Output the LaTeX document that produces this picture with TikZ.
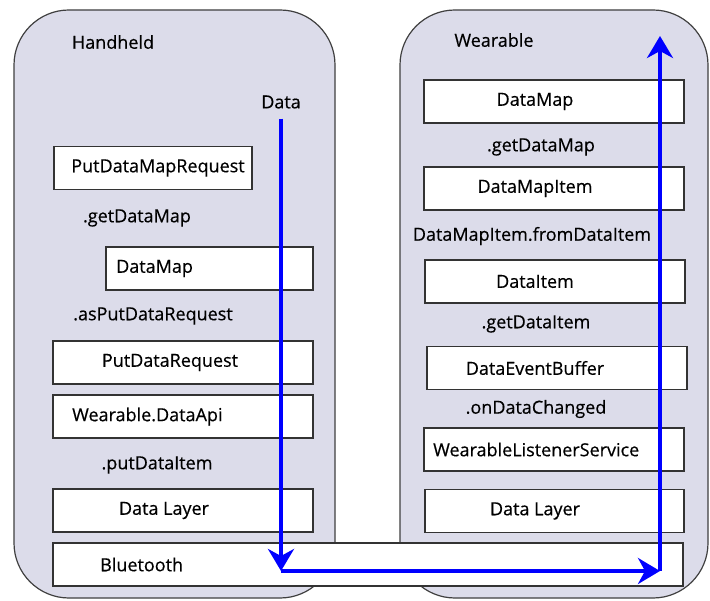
\documentclass[tikz,border=0pt]{standalone}
\usepackage{fontspec}
\setmainfont{Open Sans}[FakeBold=0.45]
\usetikzlibrary{arrows.meta}

\tikzset{
  panel/.style={draw=black!75, line width=1.2pt, fill=panelfill, rounded corners=55pt},
  box/.style={draw=black!80, line width=1.1pt, fill=white, minimum height=43pt, inner sep=0pt},
  txt/.style={font=\fontsize{18}{21}\selectfont, inner sep=1pt},
  flow/.style={draw=flowblue, line width=3.5pt, -{Stealth[length=22pt, width=26pt, inset=7pt]}}
}
\definecolor{panelfill}{RGB}{220,220,234}
\definecolor{flowblue}{RGB}{0,0,255}

\begin{document}
\begin{tikzpicture}[x=1pt, y=-1pt]
\fill[white] (0,0) rectangle (710,601);
\useasboundingbox (0,0) rectangle (710,601);

% the two devices
\draw[panel] (14,10) rectangle (335,598);
\draw[panel] (400,10) rectangle (708,598);
\node[txt] (hand) at (113,42) {Handheld};
\node[txt] (wear) at (494,40) {Wearable};

% handheld side
\node[txt] (data) at (281,102) {Data};
\node[box, minimum width=198pt] (pdmr) at (153,168) {};
\node[txt] at (158,168) {PutDataMapRequest};
\node[txt] (getmapl) at (137,218) {.getDataMap};
\node[box, minimum width=207pt] (hmap) at (209.5,268.5) {};
\node[txt, anchor=west] at (115,268.5) {DataMap};
\node[txt] (aspdr) at (153,316) {.asPutDataRequest};
\node[box, minimum width=260pt] (pdr) at (183,362.5) {};
\node[txt] at (170,362.5) {PutDataRequest};
\node[box, minimum width=260pt] (api) at (183,416.5) {};
\node[txt, anchor=west] at (71,416.5) {Wearable.DataApi};
\node[txt] (putitem) at (157,465) {.putDataItem};
\node[box, minimum width=260pt] (hlayer) at (183,510.5) {};
\node[txt] at (164,510.5) {Data Layer};

% wearable side
\node[box, minimum width=260pt] (wmap) at (554,101.5) {};
\node[txt] at (535,101.5) {DataMap};
\node[txt] (getmapr) at (541,147) {.getDataMap};
\node[box, minimum width=260pt] (dmi) at (554,188.5) {};
\node[txt] at (535,188.5) {DataMapItem};
\node[txt] (fromitem) at (532,236) {DataMapItem.fromDataItem};
\node[box, minimum width=260pt] (ditem) at (555,281.5) {};
\node[txt] at (535,281.5) {DataItem};
\node[txt] (getitem) at (536,324) {.getDataItem};
\node[box, minimum width=260pt] (buffer) at (557,368) {};
\node[txt] at (535,368) {DataEventBuffer};
\node[txt] (changed) at (536,409) {.onDataChanged};
\node[box, minimum width=260pt] (wls) at (554,449.5) {};
\node[txt, anchor=west] at (432,449.5) {WearableListenerService};
\node[box, minimum width=259pt] (wlayer) at (554.5,511) {};
\node[txt] at (535,511) {Data Layer};

% link between the devices
\node[box, minimum width=630pt] (bt) at (368,564.5) {};
\node[txt, anchor=west] at (99,564.5) {Bluetooth};

% data path
\coordinate (down) at (281,571);
\coordinate (across) at (660,571);
\coordinate (up) at (660,36);
\draw[flow, shorten <=9pt] (data.south) -- (down);
\draw[flow] (down) -- (across);
\draw[flow] (across) -- (up);
\end{tikzpicture}
\end{document}
